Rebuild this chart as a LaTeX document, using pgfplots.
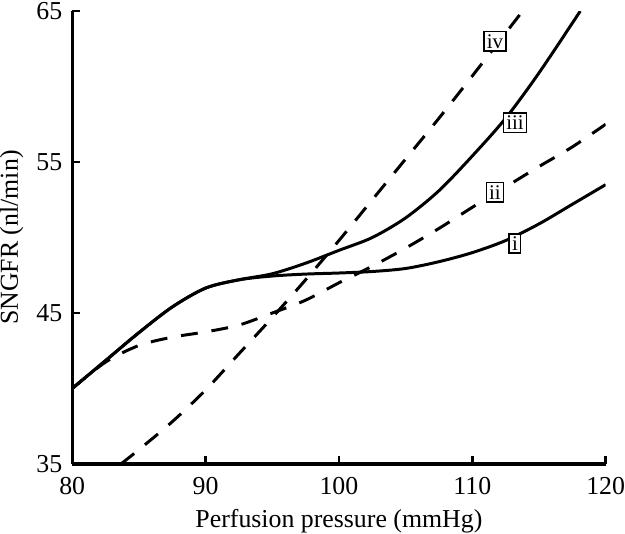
\documentclass[border=0pt]{standalone}
\usepackage{pgfplots}
\pgfplotsset{compat=1.18}
\usepackage{fontspec}
\setmainfont{Liberation Serif}
\begin{document}
\begin{tikzpicture}
\begin{axis}[
  scale only axis, width=268.5pt, height=228pt,
  xmin=80, xmax=120, ymin=35, ymax=65,
  axis lines=left, axis line style={-, line width=1.6pt},
  xtick={80,90,100,110,120}, ytick={35,45,55,65},
  tick align=inside, major tick length=4pt,
  tick style={line width=1.4pt, black},
  /pgf/number format/assume math mode=true,
  ticklabel style={font=\fontsize{13}{15}\selectfont},
  xticklabel style={inner xsep=0pt, yshift=-3pt},
  yticklabel style={inner ysep=1.2pt, xshift=-1.5pt},
  xlabel={Perfusion pressure (mmHg)},
  ylabel={SNGFR (nl/min)},
  label style={font=\fontsize{13}{15}\selectfont},
  xlabel style={inner ysep=0pt, yshift=-4pt},
  ylabel style={inner ysep=0pt, yshift=3pt},
  mydash/.style={dash pattern=on 8.5pt off 7pt},
]
% i
\addplot[black, line width=1.5pt, smooth] coordinates {
 (80,40) (82.5,41.85) (85,43.7) (87.5,45.4) (90,46.65) (92.5,47.2) (95,47.45)
 (97.5,47.58) (100,47.65) (102.5,47.75) (105,47.95) (107.5,48.4) (110,49.0)
 (112.5,49.8) (115,50.9) (117.5,52.2) (120,53.5)};
% iii
\addplot[black, line width=1.5pt, smooth] coordinates {
 (80,40) (82.5,41.85) (85,43.7) (87.5,45.4) (90,46.65) (92.5,47.2) (95,47.6)
 (97.5,48.3) (100,49.15) (102.5,50.0) (105,51.3) (107.5,53.1) (110,55.4)
 (112.5,57.9) (115,60.9) (118.1,65)};
% ii
\addplot[black, line width=1.5pt, smooth, mydash] coordinates {
 (80,40) (82.5,41.75) (85,42.85) (87.5,43.4) (90,43.75) (92.5,44.2) (95,45.0)
 (97.5,45.85) (100,47.0) (102.5,48.1) (105,49.3) (107.5,50.6) (110,52.0)
 (112.5,53.35) (115,54.7) (117.5,56.0) (120,57.5)};
% iv
\addplot[black, line width=1.5pt, smooth, mydash] coordinates {
 (83.65,35) (85,35.95) (87.5,37.8) (90,39.9) (92.5,42.3) (95,44.7) (97.5,47.2)
 (100,49.8) (102.5,52.5) (105,55.2) (107.5,57.9) (110,60.7) (113.6,64.8)};
\begin{scope}[every node/.style={draw, line width=0.8pt, fill=white, inner sep=1.4pt, font=\fontsize{10.5}{12}\selectfont}]
\node at (axis cs:111.7,63.0) {iv};
\node at (axis cs:113.2,57.6) {iii};
\node at (axis cs:111.7,53.0) {ii};
\node at (axis cs:113.2,49.6) {i};
\end{scope}
\end{axis}
\end{tikzpicture}
\end{document}
